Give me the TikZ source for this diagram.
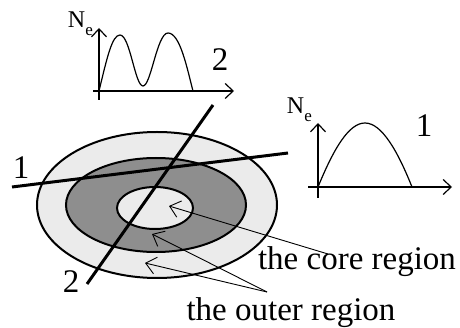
\documentclass[tikz,border=0pt]{standalone}
\usepackage{fontspec}
\setmainfont{Liberation Serif}
\usetikzlibrary{arrows.meta,positioning}
\definecolor{pale}{HTML}{EBEBEB}
\definecolor{dark}{HTML}{8E8E8E}

\begin{document}
\begin{tikzpicture}[x=1pt,y=-1pt,
  big/.style={font=\fontsize{33}{36}\selectfont,inner sep=0pt},
  ne/.style={font=\fontsize{24}{26}\selectfont,inner sep=0pt,anchor=base east},
  ptr/.style={-{Straight Barb[length=10pt,width=17pt]},line width=0.9pt},
  axis/.style={-{Straight Barb[length=8pt,width=15pt]},line width=1.2pt},
  ring/.style={line width=2pt,draw=black},
  cut/.style={line width=3pt}]
\useasboundingbox (0,0) rectangle (460,328);
% rings
\draw[ring,fill=pale] (157,205) ellipse [x radius=120,y radius=73];
\draw[ring,fill=dark] (156,205) ellipse [x radius=90,y radius=47];
\draw[ring,fill=pale] (155,208) ellipse [x radius=38,y radius=21];
% cuts
\coordinate (c1a) at (12,187); \coordinate (c1b) at (288,153);
\coordinate (c2a) at (87,284); \coordinate (c2b) at (213,105);
\draw[cut] (c1a) -- (c1b);
\draw[cut] (c2a) -- (c2b);
\node[big] (n1) at (21,168) {1};
\node[big] (n2) at (71,282) {2};
% labels
\node[big,anchor=base] (core) at (357,270) {the core region};
\node[big,anchor=base] (outer) at (291,320) {the outer region};
\coordinate (cs) at (328,254); \coordinate (os) at (267,292);
\coordinate (tcore) at (169,206);
\coordinate (tmid) at (152,234);
\coordinate (tout) at (145,263);
\draw[ptr] (cs) -- (tcore);
\draw[ptr] (os) -- (tmid);
\draw[ptr] (os) -- (tout);
% profile along 2
\draw[axis] (99,100) -- (99,28);
\draw[axis] (93,91) -- (234,91);
\draw[line width=1.2pt] (99,91) .. controls (107,58) and (112,35) .. (120,35)
  .. controls (130,35) and (135,86) .. (143,86)
  .. controls (151,86) and (157,33) .. (168,33)
  .. controls (180,33) and (187,68) .. (193,91);
\node[ne] (ne2) at (93,28) {N\raisebox{-8pt}{\fontsize{17}{17}\selectfont e}};
\node[big] (p2) at (220,60) {2};
% profile along 1
\draw[axis] (318,198) -- (318,123);
\draw[axis] (308,187) -- (452,187);
\draw[line width=1.2pt] (318,187) .. controls (334,148) and (349,123) .. (365,123)
  .. controls (382,123) and (398,152) .. (412,187);
\node[ne] (ne1) at (312,114) {N\raisebox{-8pt}{\fontsize{17}{17}\selectfont e}};
\node[big] (p1) at (424,126) {1};
\end{tikzpicture}
\end{document}
